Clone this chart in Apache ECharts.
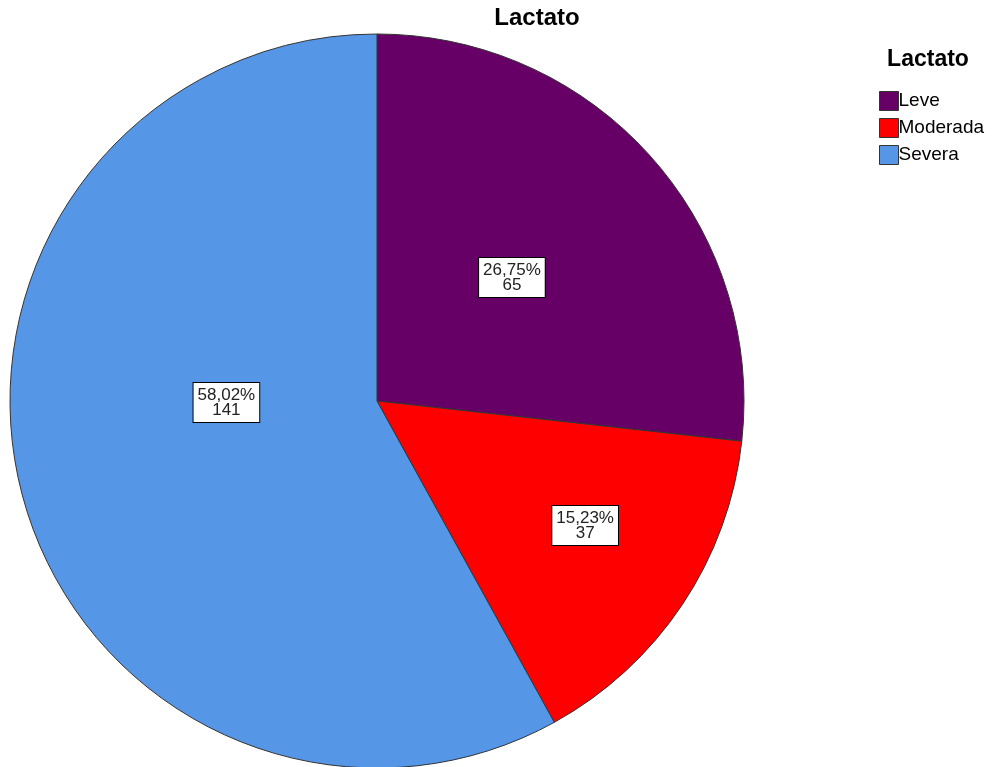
<!DOCTYPE html>
<html>
<head>
<meta charset="utf-8">
<script src="https://cdn.jsdelivr.net/npm/echarts@6/dist/echarts.min.js"></script>
<style>
  html, body { margin: 0; padding: 0; background: #fff; }
  #chart { width: 995px; height: 767px; }
</style>
</head>
<body>
<div id="chart"></div>
<script>
var categories = ['Leve', 'Moderada', 'Severa']
var counts = [65, 37, 141]
var percents = ['26,75%', '15,23%', '58,02%']
var colors = ['#660066', '#ff0000', '#5596e6']

// nudge labels to where SPSS put them
var labelShift = [[-4, 1], [53, 21], [30, -45]]

var chart = echarts.init(document.getElementById('chart'))

chart.setOption({
  animation: false,
  color: colors,
  title: [
    {
      text: 'Lactato',
      left: 532,
      top: 1,
      textAlign: 'center',
      textStyle: { fontFamily: 'Liberation Sans', fontSize: 24, fontWeight: 'bold', color: '#000' }
    },
    {
      text: 'Lactato',
      left: 923,
      top: 43,
      textAlign: 'center',
      textStyle: { fontFamily: 'Liberation Sans', fontSize: 23, fontWeight: 'bold', color: '#000' }
    }
  ],
  legend: {
    orient: 'vertical',
    left: 874,
    top: 86,
    icon: 'rect',
    itemWidth: 19,
    itemHeight: 19,
    itemGap: 7,
    data: categories,
    itemStyle: { borderColor: '#333', borderWidth: 1 },
    textStyle: { fontFamily: 'Liberation Sans', fontSize: 19, color: '#000', padding: [0, 0, 0, -5] }
  },
  series: [
    {
      type: 'pie',
      center: [377, 401],
      radius: 367,
      startAngle: 90,
      clockwise: true,
      itemStyle: { borderColor: '#333', borderWidth: 1 },
      label: {
        position: 'inside',
        formatter: function (p) {
          return percents[p.dataIndex] + '\n' + counts[p.dataIndex]
        },
        fontFamily: 'Liberation Sans',
        fontSize: 17,
        lineHeight: 15,
        color: '#222',
        backgroundColor: '#fff',
        borderColor: '#000',
        borderWidth: 1,
        padding: [5, 4, 4, 4]
      },
      labelLayout: function (p) {
        return { dx: labelShift[p.dataIndex][0], dy: labelShift[p.dataIndex][1] }
      },
      emphasis: { disabled: true },
      data: categories.map(function (c, i) {
        return { name: c, value: counts[i] }
      })
    }
  ]
})
</script>
</body>
</html>
